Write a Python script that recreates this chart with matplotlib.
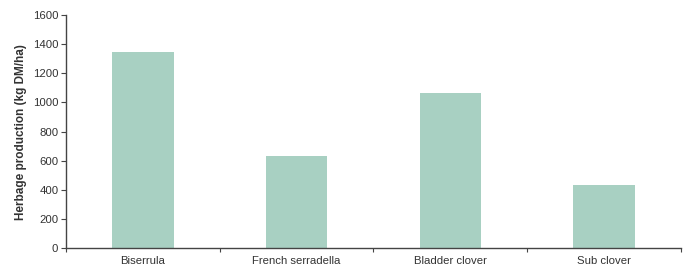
import matplotlib
matplotlib.use("Agg")
import matplotlib.pyplot as plt
import numpy as np

categories = ["Biserrula", "French serradella", "Bladder clover", "Sub clover"]
values = [1345, 632, 1064, 433]
yticks = [0, 200, 400, 600, 800, 1000, 1200, 1400, 1600]

plt.rcParams['font.family'] = ['Liberation Sans', 'DejaVu Sans']

fig = plt.figure(figsize=(6.86, 2.75), dpi=100)
ax = fig.add_axes([0.0962, 0.098, 0.8965, 0.847])

x = np.arange(len(categories))
ax.bar(x, values, width=0.4, color="#a8d0c2", zorder=2)

ax.set_xlim(-0.5, len(categories) - 0.5)
ax.set_ylim(0, 1600)
ax.set_yticks(yticks)
ax.set_yticklabels([str(t) for t in yticks], fontsize=8.2, color="#333333")
ax.set_xticks(x)
ax.set_xticklabels(categories, fontsize=8.2, color="#333333")
ax.set_xticks(np.arange(len(categories) + 1) - 0.5, minor=True)
ax.tick_params(axis='x', which='major', length=0, pad=6)
ax.tick_params(axis='x', which='minor', length=3, width=0.8, color="#444444")
ax.tick_params(axis='y', length=3.5, width=0.8, color="#444444", pad=2)

for s in ['top', 'right']:
    ax.spines[s].set_visible(False)
for s in ['left', 'bottom']:
    ax.spines[s].set_color("#444444")
    ax.spines[s].set_linewidth(1.0)

ax.set_ylabel("Herbage production (kg DM/ha)", fontsize=8.5, fontweight='bold', color="#333333", labelpad=4)

fig.savefig("out.png", dpi=100)
